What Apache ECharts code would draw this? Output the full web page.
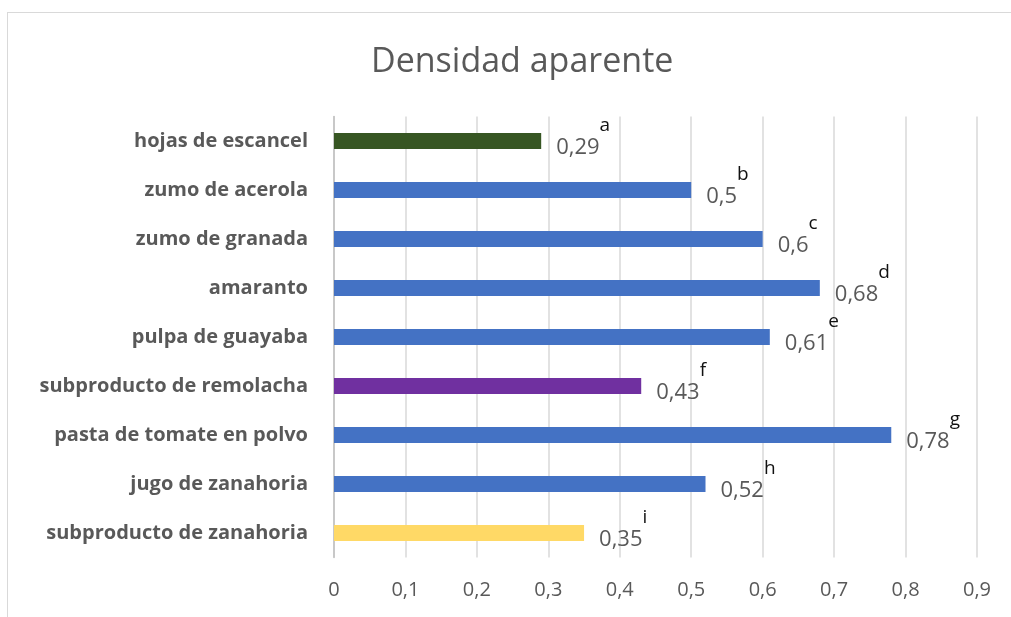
<!DOCTYPE html>
<html><head><meta charset="utf-8">
<script src="https://cdn.jsdelivr.net/npm/echarts@6/dist/echarts.min.js"></script>
<style>
html,body{margin:0;padding:0;background:#fff;overflow:hidden}
#frame{position:absolute;left:7px;top:12px;width:1030px;height:640px;border:1.5px solid #d9d9d9;box-sizing:border-box}
#c{position:absolute;left:0;top:0;width:1011px;height:617px}
</style></head>
<body><div id="frame"></div><div id="c"></div>
<script>
const categories = ['hojas de escancel','zumo de acerola','zumo de granada','amaranto','pulpa de guayaba','subproducto de remolacha','pasta de tomate en polvo','jugo de zanahoria','subproducto de zanahoria'];
const values = [0.29,0.5,0.6,0.68,0.61,0.43,0.78,0.52,0.35];
const letters = ['a','b','c','d','e','f','g','h','i'];
const colors = ['#375623','#4472C4','#4472C4','#4472C4','#4472C4','#7030A0','#4472C4','#4472C4','#FFD966'];
const xTicks = [0,0.1,0.2,0.3,0.4,0.5,0.6,0.7,0.8,0.9];

const chart = echarts.init(document.getElementById('c'));
const font = '"Open Sans", "Noto Sans", sans-serif';
chart.setOption({
  animation:false,
  backgroundColor:'transparent',
  title:{text:'Densidad aparente',left:366,top:40,textStyle:{fontFamily:font,fontSize:34,fontWeight:'normal',color:'#595959'}},
  grid:{left:334,right:34,top:116.5,bottom:59.5,containLabel:false},
  xAxis:{type:'value',min:xTicks[0],max:xTicks[xTicks.length-1],interval:0.1,
    axisLine:{show:false},axisTick:{show:false},
    splitLine:{show:true,lineStyle:{color:'#d9d9d9',width:1.5}},
    axisLabel:{margin:23,fontFamily:font,fontSize:20,color:'#595959',formatter:v=>String(Math.round(v*10)/10).replace('.',',')}},
  yAxis:{type:'category',data:categories,inverse:true,
    axisLine:{show:true,lineStyle:{color:'#bfbfbf',width:1.5}},axisTick:{show:false},
    axisLabel:{margin:26,fontFamily:font,fontSize:20,fontWeight:'bold',color:'#595959'}},
  series:[{type:'bar',barWidth:16,
    data:values.map((v,i)=>({value:v,itemStyle:{color:colors[i]}})),
    label:{show:true,position:'right',distance:15,
      formatter:p=>'{v|'+String(p.value).replace('.',',')+'}{s|'+letters[p.dataIndex]+'}',
      rich:{
        v:{fontFamily:font,fontSize:22,color:'#595959',lineHeight:56,verticalAlign:'bottom',padding:[0,0,10,0]},
        s:{fontFamily:font,fontSize:19,color:'#111',lineHeight:56,verticalAlign:'top',padding:[3,0,0,0]}
      }}
  }]
});
</script></body></html>
